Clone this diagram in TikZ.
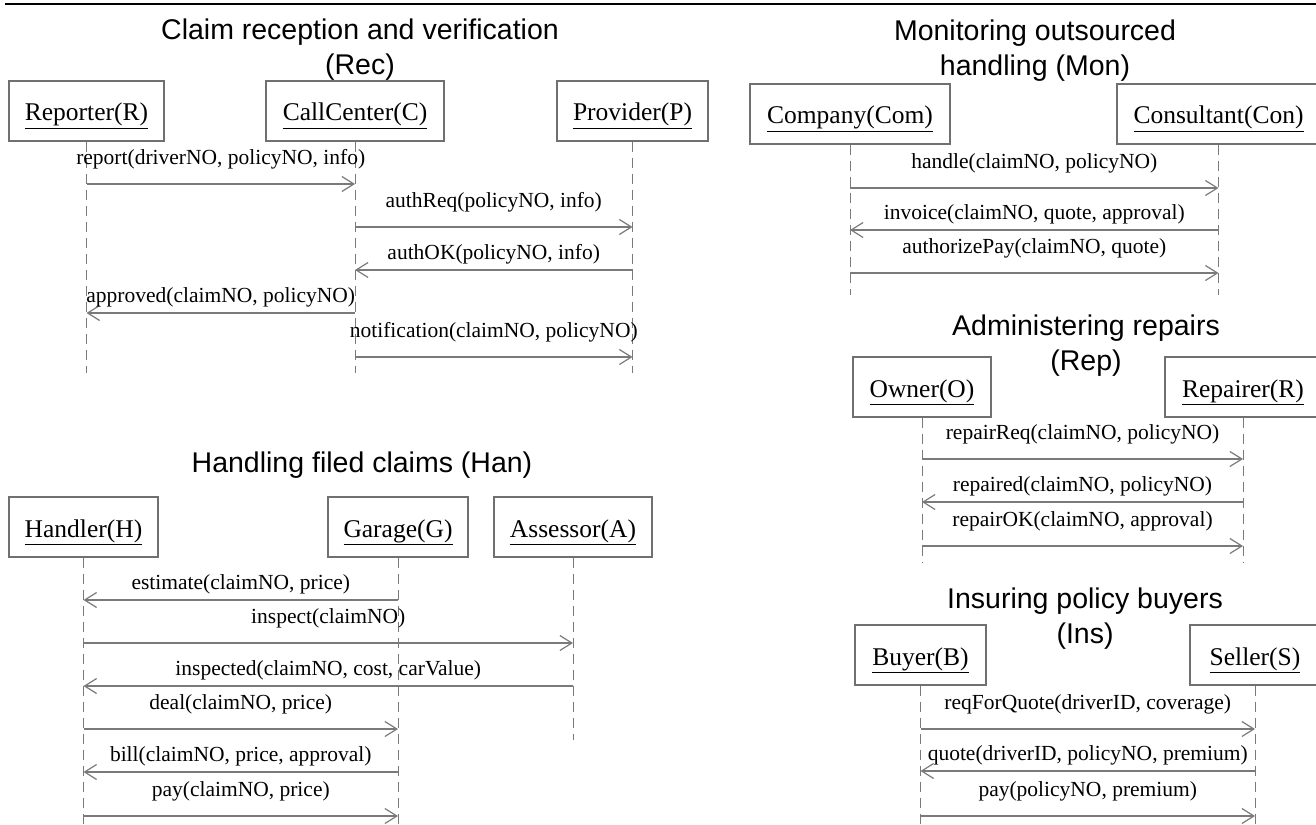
\documentclass[tikz,border=0pt]{standalone}
\usepackage{fontspec}
\setmainfont{Liberation Serif}
\newfontfamily\titlesans{Liberation Sans}
\usetikzlibrary{arrows.meta}
\definecolor{boxgray}{HTML}{707070}
\definecolor{linegray}{HTML}{7A7A7A}
\begin{document}
\begin{tikzpicture}[x=1pt,y=-1pt,
  actor/.style={draw=boxgray, line width=1.2pt, minimum height=60pt, inner sep=0pt, text height=20pt, text depth=0pt, font=\fontsize{25.5}{28}\selectfont},
  ttl/.style={font=\titlesans\fontsize{28.5}{35}\selectfont, align=center, inner sep=0pt},
  life/.style={draw=linegray, line width=1pt, dash pattern=on 10pt off 6pt},
  msg/.style={draw=linegray, line width=1.2pt, -{Straight Barb[length=12pt,width=15pt]}},
  lbl/.style={font=\fontsize{21.5}{24}\selectfont, inner sep=0pt, text=black},
  lr/.style={lbl, yshift=25pt},
  ll/.style={lbl, yshift=16pt}
]
\useasboundingbox (0,0) rectangle (1316,824);
\draw[line width=2.5pt] (5,4) -- (1316,4);

% ---------- Rec ----------
\node[ttl] (trec) at (360,50) {Claim reception and verification\\(Rec)};
\node[actor, minimum width=155pt] (rep) at (86.5,111) {\underline{Reporter(R)}};
\node[actor, minimum width=178pt] (cc) at (355,111) {\underline{CallCenter(C)}};
\node[actor, minimum width=151pt] (prov) at (632.5,111) {\underline{Provider(P)}};
\coordinate (recEnd) at (0,373);
\draw[life] (rep.south) -- (rep.south |- recEnd);
\draw[life] (cc.south) -- (cc.south |- recEnd);
\draw[life] (prov.south) -- (prov.south |- recEnd);
\coordinate (r1) at (0,184);
\coordinate (r2) at (0,227);
\coordinate (r3) at (0,270);
\coordinate (r4) at (0,313);
\coordinate (r5) at (0,357);
\draw[msg] (rep.south |- r1) -- node[lr]{report(driverNO, policyNO, info)} (cc.south |- r1);
\draw[msg] (cc.south |- r2) -- node[lr]{authReq(policyNO, info)} (prov.south |- r2);
\draw[msg] (prov.south |- r3) -- node[ll]{authOK(policyNO, info)} (cc.south |- r3);
\draw[msg] (cc.south |- r4) -- node[ll]{approved(claimNO, policyNO)} (rep.south |- r4);
\draw[msg] (cc.south |- r5) -- node[lr]{notification(claimNO, policyNO)} (prov.south |- r5);

% ---------- Mon ----------
\node[ttl] (tmon) at (1035,51) {Monitoring outsourced\\handling (Mon)};
\node[actor, minimum width=200pt] (com) at (850,114) {\underline{Company(Com)}};
\node[actor, minimum width=203pt] (con) at (1218.5,114) {\underline{Consultant(Con)}};
\coordinate (monEnd) at (0,295);
\draw[life] (com.south) -- (com.south |- monEnd);
\draw[life] (con.south) -- (con.south |- monEnd);
\coordinate (m1) at (0,188);
\coordinate (m2) at (0,230);
\coordinate (m3) at (0,273);
\draw[msg] (com.south |- m1) -- node[lr]{handle(claimNO, policyNO)} (con.south |- m1);
\draw[msg] (con.south |- m2) -- node[ll]{invoice(claimNO, quote, approval)} (com.south |- m2);
\draw[msg] (com.south |- m3) -- node[lr]{authorizePay(claimNO, quote)} (con.south |- m3);

% ---------- Rep ----------
\node[ttl] (trep) at (1086,346) {Administering repairs\\(Rep)};
\node[actor, minimum width=138pt] (own) at (922,387) {\underline{Owner(O)}};
\node[actor, minimum width=156pt] (rpr) at (1243,387) {\underline{Repairer(R)}};
\coordinate (repEnd) at (0,562);
\draw[life] (own.south) -- (own.south |- repEnd);
\draw[life] (rpr.south) -- (rpr.south |- repEnd);
\coordinate (p1) at (0,459);
\coordinate (p2) at (0,502);
\coordinate (p3) at (0,546);
\draw[msg] (own.south |- p1) -- node[lr]{repairReq(claimNO, policyNO)} (rpr.south |- p1);
\draw[msg] (rpr.south |- p2) -- node[ll]{repaired(claimNO, policyNO)} (own.south |- p2);
\draw[msg] (own.south |- p3) -- node[lr]{repairOK(claimNO, approval)} (rpr.south |- p3);

% ---------- Ins ----------
\node[ttl] (tins) at (1085,619) {Insuring policy buyers\\(Ins)};
\node[actor, minimum width=131pt] (buy) at (920.5,655) {\underline{Buyer(B)}};
\node[actor, minimum width=130pt] (sel) at (1255,655) {\underline{Seller(S)}};
\coordinate (insEnd) at (0,824);
\draw[life] (buy.south) -- (buy.south |- insEnd);
\draw[life] (sel.south) -- (sel.south |- insEnd);
\coordinate (i1) at (0,729);
\coordinate (i2) at (0,771);
\coordinate (i3) at (0,816);
\draw[msg] (buy.south |- i1) -- node[lr]{reqForQuote(driverID, coverage)} (sel.south |- i1);
\draw[msg] (sel.south |- i2) -- node[ll]{quote(driverID, policyNO, premium)} (buy.south |- i2);
\draw[msg] (buy.south |- i3) -- node[lr]{pay(policyNO, premium)} (sel.south |- i3);

% ---------- Han ----------
\node[ttl] (than) at (362,465) {Handling filed claims (Han)};
\node[actor, minimum width=149pt] (hnd) at (83.5,527) {\underline{Handler(H)}};
\node[actor, minimum width=140pt] (gar) at (398,527) {\underline{Garage(G)}};
\node[actor, minimum width=158pt] (ass) at (573,527) {\underline{Assessor(A)}};
\coordinate (hanEnd) at (0,824);
\coordinate (assEnd) at (0,740);
\draw[life] (hnd.south) -- (hnd.south |- hanEnd);
\draw[life] (gar.south) -- (gar.south |- hanEnd);
\draw[life] (ass.south) -- (ass.south |- assEnd);
\coordinate (h1) at (0,600);
\coordinate (h2) at (0,643);
\coordinate (h3) at (0,686);
\coordinate (h4) at (0,729);
\coordinate (h5) at (0,772);
\coordinate (h6) at (0,816);
\draw[msg] (gar.south |- h1) -- node[ll]{estimate(claimNO, price)} (hnd.south |- h1);
\draw[msg] (hnd.south |- h2) -- node[lr]{inspect(claimNO)} (ass.south |- h2);
\draw[msg] (ass.south |- h3) -- node[ll]{inspected(claimNO, cost, carValue)} (hnd.south |- h3);
\draw[msg] (hnd.south |- h4) -- node[lr]{deal(claimNO, price)} (gar.south |- h4);
\draw[msg] (gar.south |- h5) -- node[ll]{bill(claimNO, price, approval)} (hnd.south |- h5);
\draw[msg] (hnd.south |- h6) -- node[lr]{pay(claimNO, price)} (gar.south |- h6);
\end{tikzpicture}
\end{document}
